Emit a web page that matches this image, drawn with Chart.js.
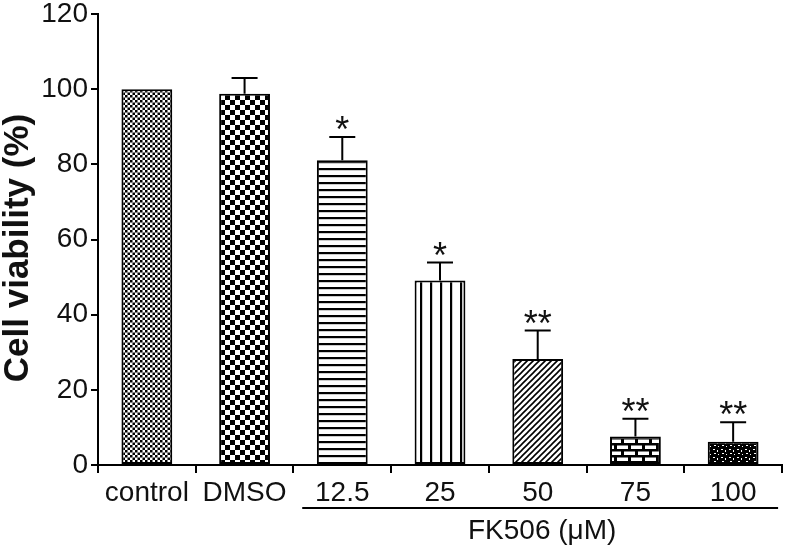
<!DOCTYPE html>
<html>
<head>
<meta charset="utf-8">
<script src="https://cdn.jsdelivr.net/npm/chart.js@4"></script>
<style>
  html, body { margin: 0; padding: 0; background: #fff; }
  #wrap { width: 785px; height: 549px; }
</style>
</head>
<body>
<div id="wrap"><canvas id="viabilityChart"></canvas></div>
<script>
// Data
const categories = ['control', 'DMSO', '12.5', '25', '50', '75', '100'];
const viability = [100, 98.8, 81.1, 49.1, 28.2, 7.6, 6.2];
const errorUp = [0, 4.2, 6.2, 4.8, 7.6, 4.7, 5.2];
const significance = ['', '', '*', '*', '**', '**', '**'];
const yTicks = [0, 20, 40, 60, 80, 100, 120];
const yTitle = 'Cell viability (%)';
const groupLabel = 'FK506 (μM)';
const groupFrom = 2; // first FK506 dose

const FONT = 'Arial, "Liberation Sans", Helvetica, sans-serif';

// small helper to build a fill pattern from a tile
function tile(w, h, draw) {
    const c = document.createElement('canvas');
    c.width = w; c.height = h;
    const g = c.getContext('2d');
    g.fillStyle = '#fff';
    g.fillRect(0, 0, w, h);
    g.fillStyle = '#000';
    g.strokeStyle = '#000';
    draw(g, w, h);
    return g.createPattern(c, 'repeat');
}

const patterns = [
    // control: fine checker, reads as grey
    tile(5, 5, g => { g.fillRect(0, 0, 2.5, 2.5); g.fillRect(2.5, 2.5, 2.5, 2.5); }),
    // DMSO: checkerboard
    tile(10, 10, g => { g.fillRect(0, 0, 5, 5); g.fillRect(5, 5, 5, 5); }),
    // 12.5: horizontal lines
    tile(4, 7, g => { g.fillRect(0, 0, 4, 2.2); }),
    // 25: vertical lines
    tile(10, 4, g => { g.fillRect(0, 0, 2.2, 4); }),
    // 50: diagonal lines
    tile(6, 6, g => {
        g.lineWidth = 1.6;
        g.beginPath();
        g.moveTo(-1, 7); g.lineTo(7, -1);
        g.moveTo(-1, 1); g.lineTo(1, -1);
        g.moveTo(5, 7); g.lineTo(7, 5);
        g.stroke();
    }),
    // 75: bricks
    tile(14, 12, g => {
        g.fillRect(0, 0, 14, 12);
        g.fillStyle = '#fff';
        g.fillRect(1, 1.5, 11, 3.5);
        g.fillRect(8, 7.5, 6, 3.5);
        g.fillRect(0, 7.5, 5, 3.5);
    }),
    // 100: dark with white speckles
    tile(8, 8, g => {
        g.fillRect(0, 0, 8, 8);
        g.fillStyle = '#fff';
        g.fillRect(1, 1, 2, 1);
        g.fillRect(5, 2, 1, 2);
        g.fillRect(2, 5, 2, 1);
        g.fillRect(6, 6, 1, 1);
    })
];

const extrasPlugin = {
    id: 'extras',
    afterDatasetsDraw(chart) {
        const ctx = chart.ctx;
        const x = chart.scales.x;
        const y = chart.scales.y;
        ctx.save();
        ctx.strokeStyle = '#000';
        ctx.fillStyle = '#111';
        ctx.lineWidth = 2;
        ctx.font = '36px ' + FONT;
        ctx.textAlign = 'center';
        ctx.textBaseline = 'alphabetic';
        viability.forEach((v, i) => {
            const cx = x.getPixelForValue(i);
            const top = y.getPixelForValue(v);
            let markY = top;
            if (errorUp[i] > 0) {
                const cap = y.getPixelForValue(v + errorUp[i]);
                ctx.beginPath();
                ctx.moveTo(cx, top);
                ctx.lineTo(cx, cap);
                ctx.moveTo(cx - 13, cap);
                ctx.lineTo(cx + 13, cap);
                ctx.stroke();
                markY = cap;
            }
            if (significance[i]) {
                // centre the glyphs about 14px above the cap
                const m = ctx.measureText(significance[i]);
                const centre = markY - 14;
                const base = centre + (m.actualBoundingBoxAscent - m.actualBoundingBoxDescent) / 2;
                ctx.fillText(significance[i], cx, base);
            }
        });
        ctx.restore();
    },
    afterDraw(chart) {
        const ctx = chart.ctx;
        const x = chart.scales.x;
        const step = x.getPixelForValue(1) - x.getPixelForValue(0);
        const x1 = x.getPixelForValue(groupFrom) - 0.41 * step;
        const x2 = x.getPixelForValue(categories.length - 1) + 0.46 * step;
        const ly = 508;
        ctx.save();
        ctx.strokeStyle = '#000';
        ctx.lineWidth = 2;
        ctx.beginPath();
        ctx.moveTo(x1, ly);
        ctx.lineTo(x2, ly);
        ctx.stroke();
        ctx.fillStyle = '#111';
        ctx.font = '28px ' + FONT;
        ctx.textAlign = 'center';
        ctx.textBaseline = 'alphabetic';
        ctx.fillText(groupLabel, (x1 + x2) / 2 + 2, 539);

        // y axis title
        ctx.translate(18, 248);
        ctx.rotate(-Math.PI / 2);
        ctx.font = 'bold 35px ' + FONT;
        ctx.textBaseline = 'middle';
        ctx.fillText(yTitle, 0, 0);
        ctx.restore();
    }
};

new Chart(document.getElementById('viabilityChart'), {
    type: 'bar',
    data: {
        labels: categories,
        datasets: [{
            data: viability,
            backgroundColor: patterns,
            borderColor: '#000',
            borderWidth: 2,
            borderSkipped: false,
            barPercentage: 0.52,
            categoryPercentage: 1
        }]
    },
    options: {
        responsive: true,
        maintainAspectRatio: false,
        animation: false,
        layout: { padding: { top: 12, right: 3, left: 0, bottom: 0 } },
        plugins: {
            legend: { display: false },
            tooltip: { enabled: false }
        },
        scales: {
            x: {
                offset: true,
                grid: { display: true, drawOnChartArea: false, tickLength: 8, tickColor: '#000', lineWidth: 2 },
                border: { display: true, color: '#000', width: 2 },
                ticks: { color: '#111', font: { family: FONT, size: 28 }, padding: 3, maxRotation: 0, autoSkip: false },
                afterFit: s => { s.height = 84; }
            },
            y: {
                min: 0,
                max: 120,
                afterBuildTicks: s => { s.ticks = yTicks.map(v => ({ value: v })); },
                grid: { display: true, drawOnChartArea: false, tickLength: 7, tickColor: '#000', lineWidth: 2 },
                border: { display: true, color: '#000', width: 2 },
                ticks: { color: '#111', font: { family: FONT, size: 28, lineHeight: 0.8 }, padding: 3 },
                afterFit: s => { s.width = 98; }
            }
        }
    },
    plugins: [extrasPlugin]
});
</script>
</body>
</html>
